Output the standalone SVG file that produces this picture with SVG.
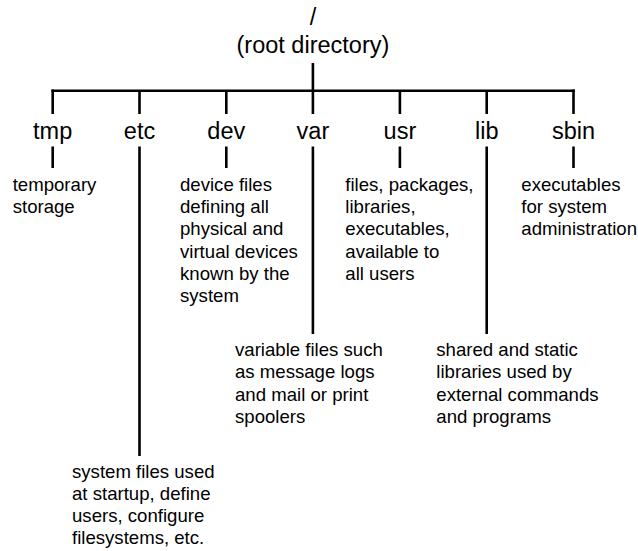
<svg xmlns="http://www.w3.org/2000/svg" width="638" height="551" viewBox="0 0 638 551">
<style>
  .bg { fill: #ffffff; }
  .lbl { font-family: "Liberation Sans", Arial, Helvetica, sans-serif; font-size: 23.5px; fill: #000; text-anchor: middle; }
  .desc { font-family: "Liberation Sans", Arial, Helvetica, sans-serif; font-size: 18.6px; fill: #000; }
  .conn { stroke: #000; stroke-width: 2.6; fill: none; stroke-linecap: butt; }
</style>
<rect class="bg" x="0" y="0" width="638" height="551"/>
<g id="connectors">
  <path class="conn" d="M312.9,63 V90.7"/>
  <path class="conn" d="M51.4,90.7 H574.8"/>
  <path class="conn" d="M52.7,89.4 V114 M139.5,90.7 V114 M226.3,90.7 V114 M312.9,90.7 V114 M399.9,90.7 V114 M486.7,90.7 V114 M573.5,89.4 V114"/>
  <path class="conn" d="M52.7,146.5 V168 M226.3,146.5 V168 M399.9,146.5 V168 M573.5,146.5 V168"/>
  <path class="conn" d="M139.5,146.5 V456"/>
  <path class="conn" d="M312.9,146.5 V334"/>
  <path class="conn" d="M486.7,146.5 V334"/>
</g>
<g id="root">
  <text class="lbl" x="312.9" y="25">/</text>
  <text class="lbl" x="312.9" y="53">(root directory)</text>
</g>
<g id="tmp"><text class="lbl" x="52.7" y="139">tmp</text></g>
<g id="etc"><text class="lbl" x="139.5" y="139">etc</text></g>
<g id="dev"><text class="lbl" x="226.3" y="139">dev</text></g>
<g id="var"><text class="lbl" x="312.9" y="139">var</text></g>
<g id="usr"><text class="lbl" x="399.9" y="139">usr</text></g>
<g id="lib"><text class="lbl" x="486.7" y="139">lib</text></g>
<g id="sbin"><text class="lbl" x="573.5" y="139">sbin</text></g>
<g id="tmp-desc">
  <text class="desc" x="12.7" y="190.7"><tspan x="12.7">temporary</tspan><tspan x="12.7" dy="22.3">storage</tspan></text>
</g>
<g id="dev-desc">
  <text class="desc" x="180" y="190.7"><tspan x="180">device files</tspan><tspan x="180" dy="22.3">defining all</tspan><tspan x="180" dy="22.3">physical and</tspan><tspan x="180" dy="22.3">virtual devices</tspan><tspan x="180" dy="22.3">known by the</tspan><tspan x="180" dy="22.3">system</tspan></text>
</g>
<g id="usr-desc">
  <text class="desc" x="345.3" y="190.7"><tspan x="345.3">files, packages,</tspan><tspan x="345.3" dy="22.3">libraries,</tspan><tspan x="345.3" dy="22.3">executables,</tspan><tspan x="345.3" dy="22.3">available to</tspan><tspan x="345.3" dy="22.3">all users</tspan></text>
</g>
<g id="sbin-desc">
  <text class="desc" x="521.3" y="190.7"><tspan x="521.3">executables</tspan><tspan x="521.3" dy="22.3">for system</tspan><tspan x="521.3" dy="22.3">administration</tspan></text>
</g>
<g id="var-desc">
  <text class="desc" x="235" y="356"><tspan x="235">variable files such</tspan><tspan x="235" dy="22.3">as message logs</tspan><tspan x="235" dy="22.3">and mail or print</tspan><tspan x="235" dy="22.3">spoolers</tspan></text>
</g>
<g id="lib-desc">
  <text class="desc" x="436.3" y="356"><tspan x="436.3">shared and static</tspan><tspan x="436.3" dy="22.3">libraries used by</tspan><tspan x="436.3" dy="22.3">external commands</tspan><tspan x="436.3" dy="22.3">and programs</tspan></text>
</g>
<g id="etc-desc">
  <text class="desc" x="72" y="477.5"><tspan x="72">system files used</tspan><tspan x="72" dy="22.3">at startup, define</tspan><tspan x="72" dy="22.3">users, configure</tspan><tspan x="72" dy="22.3">filesystems, etc.</tspan></text>
</g>
</svg>
